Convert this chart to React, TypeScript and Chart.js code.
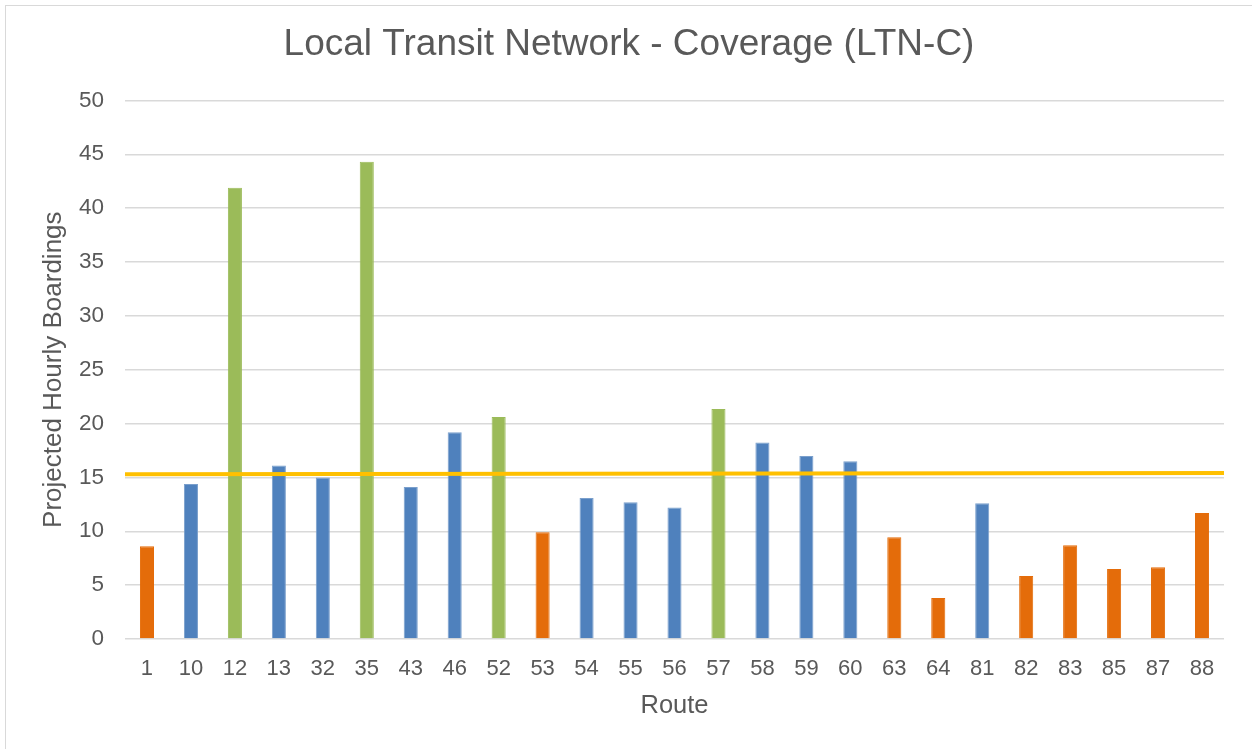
import React, { useEffect, useRef } from "react";
import { Chart, registerables } from "chart.js";

Chart.register(...registerables);

const routes = ["1","10","12","13","32","35","43","46","52","53","54","55","56","57","58","59","60","63","64","81","82","83","85","87","88"];
const boardings = [8.6,14.4,41.9,16.1,15.0,44.3,14.1,19.2,20.6,9.9,13.1,12.7,12.2,21.35,18.25,17.0,16.5,9.45,3.8,12.6,5.85,8.7,6.5,6.65,11.7];
// route tier: C = coverage (orange), L = local (blue), F = frequent (green)
const tiers = ["C","L","F","L","L","F","L","L","F","C","L","L","L","F","L","L","L","C","C","L","C","C","C","C","C"];
const averageLine = [15.3, 15.42];
const yTicks = [0, 5, 10, 15, 20, 25, 30, 35, 40, 45, 50];

const tierColor: Record<string, string> = { C: "#E46C0A", L: "#4F81BD", F: "#9BBB59" };
const tierBorder: Record<string, string> = { C: "#E46C0A", L: "#7A9FCC", F: "#9BBB59" };

const FONT = "'Liberation Sans', Arial, sans-serif";
const TEXT = "#595959";

export default function App() {
  const ref = useRef<HTMLCanvasElement>(null);

  useEffect(() => {
    if (!ref.current) return;
    const chart = new Chart(ref.current, {
      type: "bar",
      data: {
        labels: routes,
        datasets: [
          {
            type: "bar",
            label: "Projected Hourly Boardings",
            data: boardings,
            xAxisID: "x",
            backgroundColor: tiers.map((t) => tierColor[t]),
            borderColor: tiers.map((t) => tierBorder[t]),
            borderWidth: 1,
            categoryPercentage: 1,
            barPercentage: 0.32,
            grouped: false,
            order: 1,
          },
          {
            type: "line",
            label: "Average",
            data: averageLine.map((v, i) => ({ x: i, y: v })),
            xAxisID: "x2",
            borderColor: "#FFC000",
            borderWidth: 4,
            pointRadius: 0,
            order: 0,
          } as any,
        ],
      },
      options: {
        responsive: false,
        animation: false,
        layout: { padding: { left: 34, right: 28, top: 0, bottom: 0 } },
        plugins: {
          legend: { display: false },
          tooltip: { enabled: false },
          title: {
            display: true,
            text: "Local Transit Network - Coverage (LTN-C)",
            color: TEXT,
            font: { family: FONT, size: 37, weight: "normal" },
            padding: { top: 23, bottom: 33 },
          },
        },
        scales: {
          x: {
            type: "category",
            offset: true,
            grid: { display: false },
            border: { display: false },
            ticks: {
              color: TEXT,
              font: { family: FONT, size: 22 },
              padding: 9,
              autoSkip: false,
              maxRotation: 0,
            },
            title: {
              display: true,
              text: "Route",
              color: TEXT,
              font: { family: FONT, size: 25.5 },
              padding: { top: 0, bottom: 28 },
            },
            afterFit: (s: any) => {
              s.height = 110;
            },
          },
          x2: {
            type: "linear",
            display: false,
            offset: false,
            min: 0,
            max: 1,
          },
          y: {
            min: 0,
            max: 50,
            afterBuildTicks: (s: any) => {
              s.ticks = yTicks.map((v) => ({ value: v }));
            },
            grid: { color: "#D9D9D9", lineWidth: 1.5, drawTicks: false },
            border: { display: false },
            ticks: {
              color: TEXT,
              font: { family: FONT, size: 22.5 },
              padding: 21,
            },
            title: {
              display: true,
              text: "Projected Hourly Boardings",
              color: TEXT,
              font: { family: FONT, size: 26 },
              padding: { top: 4, bottom: 0 },
            },
            afterFit: (s: any) => {
              s.width = 91;
            },
          },
        },
      },
    });
    return () => chart.destroy();
  }, []);

  return (
    <div style={{ position: "fixed", left: 0, top: 0, width: 1252, height: 749, background: "#fff", overflow: "hidden" }}>
      <div
        style={{
          position: "absolute",
          left: 5,
          top: 5,
          width: 1300,
          height: 800,
          borderLeft: "1.5px solid #D9D9D9",
          borderTop: "1.5px solid #D9D9D9",
        }}
      />
      <canvas ref={ref} width={1252} height={749} style={{ position: "absolute", left: 0, top: 0 }} />
    </div>
  );
}
